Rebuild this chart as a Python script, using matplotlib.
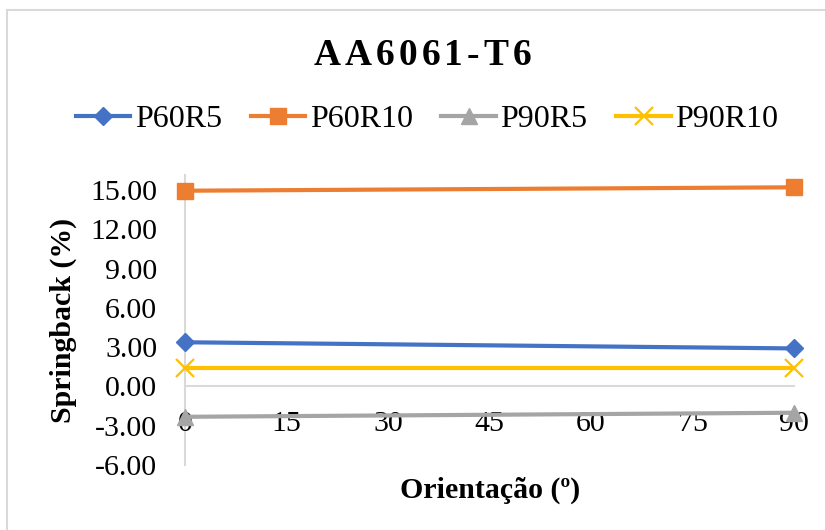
import matplotlib
matplotlib.use("Agg")
import matplotlib.pyplot as plt
from matplotlib.patches import Rectangle
from matplotlib.ticker import FixedLocator, FormatStrFormatter

plt.rcParams["font.family"] = ["Liberation Serif", "DejaVu Serif"]
plt.rcParams["axes.unicode_minus"] = False

# Springback data for each punch/radius configuration
orientation = [0, 90]
p60r5 = [3.37, 2.90]
p60r10 = [14.94, 15.20]
p90r5 = [-2.32, -2.01]
p90r10 = [1.38, 1.38]

series_names = ["P60R5", "P60R10", "P90R5", "P90R10"]
x_ticks = [0, 15, 30, 45, 60, 75, 90]
y_ticks = [-6, -3, 0, 3, 6, 9, 12, 15]
title = "AA6061-T6"

W, H = 825, 530
fig = plt.figure(figsize=(W / 100, H / 100), dpi=100)
ax = fig.add_axes([185 / W, 1 - 465 / H, (794 - 185) / W, (465 - 175) / H])

styles = [
    dict(color="#4472C4", marker="D", markersize=9.5),
    dict(color="#ED7D31", marker="s", markersize=11),
    dict(color="#A5A5A5", marker="^", markersize=11),
    dict(color="#FFC000", marker="x", markersize=12.5, markeredgewidth=1.6),
]
for vals, name, st in zip([p60r5, p60r10, p90r5, p90r10], series_names, styles):
    ax.plot(orientation, vals, label=name, linewidth=3.0, clip_on=False,
            zorder=3, **st)

ax.set_xlim(0, 90)
ax.set_ylim(-6, 16.14)
ax.xaxis.set_major_locator(FixedLocator(x_ticks))
ax.yaxis.set_major_locator(FixedLocator(y_ticks))
ax.yaxis.set_major_formatter(FormatStrFormatter("%.2f"))

for side in ["top", "right"]:
    ax.spines[side].set_visible(False)
ax.spines["bottom"].set_position(("data", 0))
for side in ["bottom", "left"]:
    ax.spines[side].set_color("#D9D9D9")
    ax.spines[side].set_linewidth(1.5)
    ax.spines[side].set_zorder(1)

ax.tick_params(axis="both", length=0, labelsize=21.5, colors="black")
ax.tick_params(axis="x", pad=18)
ax.tick_params(axis="y", pad=20)

fig.text(63 / W, 1 - 320 / H, "Springback (%)", rotation=90, ha="center",
         va="center", fontsize=21.5, fontweight="bold")
fig.text(490 / W, 1 - 490 / H, "Orientação (º)", ha="center", va="center",
         fontsize=21.5, fontweight="bold")

# Title drawn character by character with extra tracking
renderer = fig.canvas.get_renderer()
tracking = 4.0  # px between characters
chars = []
widths = []
for ch in title:
    t = fig.text(0, 0, ch, fontsize=27, fontweight="bold", va="baseline",
                 ha="left")
    widths.append(t.get_window_extent(renderer).width)
    chars.append(t)
total = sum(widths) + tracking * (len(title) - 1)
x = 422.5 - total / 2
for t, w in zip(chars, widths):
    t.set_position((x / W, 1 - 65 / H))
    x += w + tracking

ax.legend(loc="center", bbox_to_anchor=(427 / W, 1 - 119 / H),
          bbox_transform=fig.transFigure, ncol=4, frameon=False,
          fontsize=23, handlelength=1.7, handletextpad=0.15,
          columnspacing=0.9, borderaxespad=0, borderpad=0)

# outer chart border
fig.add_artist(Rectangle((7 / W, -0.1), 1.2, 1.1 - 10 / H,
                         transform=fig.transFigure, fill=False,
                         edgecolor="#D9D9D9", linewidth=1.5))

fig.savefig("out.png", dpi=100)
